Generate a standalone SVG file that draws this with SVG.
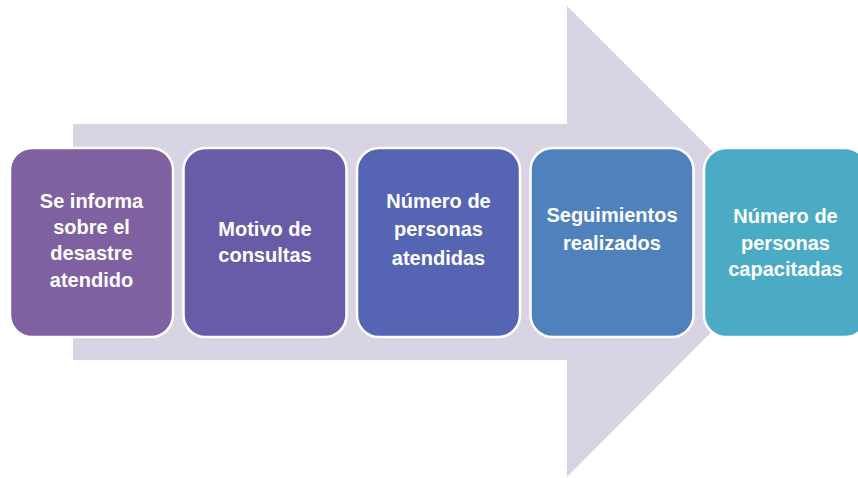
<svg xmlns="http://www.w3.org/2000/svg" width="858" height="478" viewBox="0 0 858 478">
<style>
.box{stroke:#ffffff;stroke-width:2.5}
.lbl{font-family:"Liberation Sans",Arial,sans-serif;font-weight:bold;font-size:20px;fill:#ffffff;text-anchor:middle}
</style>
<rect width="858" height="478" fill="#ffffff"/>
<g id="arrow">
<polygon points="73,124 567,124 567,6 802,241 567,477 567,360 73,360" fill="#D8D4E3"/>
</g>
<g id="connectors"></g>
<g id="node1">
<rect class="box" x="10" y="148" width="163" height="189" rx="22" fill="#7F61A1"/>
<text class="lbl" x="91.5" y="208">Se informa</text>
<text class="lbl" x="91.5" y="234">sobre el</text>
<text class="lbl" x="91.5" y="260">desastre</text>
<text class="lbl" x="91.5" y="287">atendido</text>
</g>
<g id="node2">
<rect class="box" x="183.5" y="148" width="163" height="189" rx="22" fill="#685CA9"/>
<text class="lbl" x="265" y="236">Motivo de</text>
<text class="lbl" x="265" y="262">consultas</text>
</g>
<g id="node3">
<rect class="box" x="357" y="148" width="163" height="189" rx="22" fill="#5565B4"/>
<text class="lbl" x="438.5" y="208">Número de</text>
<text class="lbl" x="438.5" y="236">personas</text>
<text class="lbl" x="438.5" y="265">atendidas</text>
</g>
<g id="node4">
<rect class="box" x="530.5" y="148" width="163" height="189" rx="22" fill="#4F82BD"/>
<text class="lbl" x="612" y="222">Seguimientos</text>
<text class="lbl" x="612" y="250">realizados</text>
</g>
<g id="node5">
<rect class="box" x="704" y="148" width="163" height="189" rx="22" fill="#4BABC5"/>
<text class="lbl" x="785.5" y="223">Número de</text>
<text class="lbl" x="785.5" y="250">personas</text>
<text class="lbl" x="785.5" y="276">capacitadas</text>
</g>
</svg>
